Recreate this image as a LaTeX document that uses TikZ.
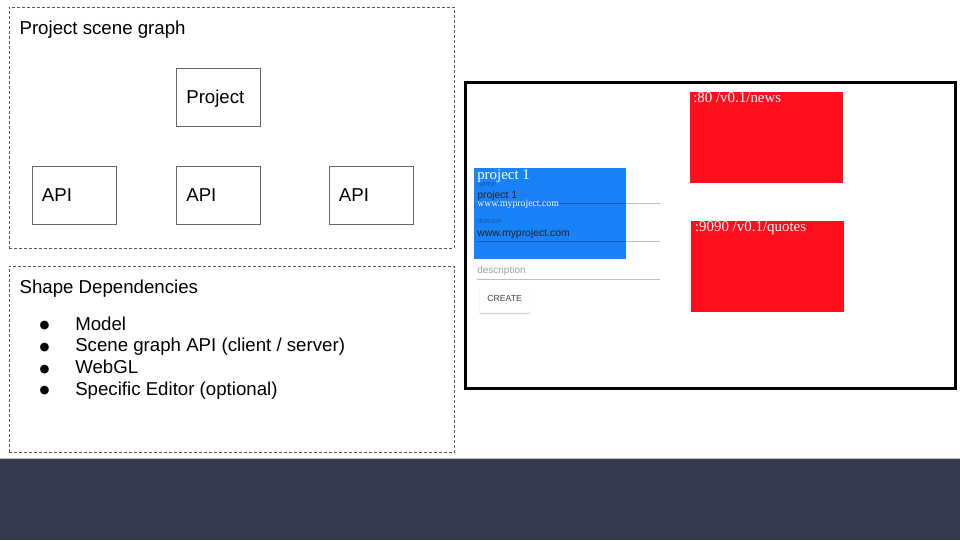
\documentclass[tikz,border=0pt]{standalone}
\usepackage{fontspec}
\setmainfont{Liberation Sans}
\newfontfamily\shotserif{Liberation Serif}
\newfontfamily\bulfont{DejaVu Sans}
\usetikzlibrary{shadows}
\definecolor{boxgray}{HTML}{666666}
\definecolor{dashgray}{HTML}{595959}
\definecolor{paneblue}{HTML}{1A82F8}
\definecolor{panered}{HTML}{FF0E1E}
\definecolor{band}{HTML}{323A4C}
\definecolor{formtext}{HTML}{212121}
\begin{document}
\begin{tikzpicture}[x=0.75pt,y=-0.75pt,
  dashbox/.style={draw=dashgray, dash pattern=on 2.25pt off 1.5pt, line width=0.6pt, minimum width=333.75pt, inner sep=0pt},
  nodebox/.style={draw=boxgray, line width=0.75pt, minimum width=62.6pt, minimum height=43.4pt, inner xsep=7pt, inner ysep=0pt, text width=48.6pt, align=left, text height=10pt, text depth=0pt, font=\fontsize{14}{16}\selectfont},
  heading/.style={anchor=base west, inner sep=0pt, font=\fontsize{14}{16}\selectfont},
  bul/.style={anchor=base, inner sep=0pt, font=\bulfont\fontsize{8.5}{10}\selectfont},
  item/.style={anchor=base west, inner sep=0pt, font=\fontsize{14}{16}\selectfont},
  panel/.style={minimum width=114.3pt, minimum height=68.4pt, inner sep=0pt},
  serifw/.style={anchor=base west, inner sep=0pt, text=white, font=\shotserif\fontsize{11.2}{13}\selectfont},
  formtxt/.style={anchor=base west, inner sep=0pt, text=formtext, font=\fontsize{7.8}{9}\selectfont},
  formlbl/.style={anchor=base west, inner sep=0pt, text=black, text opacity=0.3, font=\fontsize{5.6}{7}\selectfont},
  uline/.style={draw=black, draw opacity=0.25, line width=0.75pt},
  button/.style={fill=white, rounded corners=1.5pt, minimum width=38pt, minimum height=20.8pt, inner sep=0pt, text=formtext!85, font=\fontsize{6.5}{8}\selectfont, drop shadow={shadow xshift=0pt, shadow yshift=-1pt, opacity=0.35}}
]
\useasboundingbox (0,0) rectangle (960,540);

% --- Project scene graph ---
\node[dashbox, minimum height=180.75pt] (sgbox) at (231.8,127.8) {};
\node[heading] (sgtitle) at (19.3,34.3) {Project scene graph};
\node[nodebox] (proj) at (218.7,97.3) {Project};
\node[nodebox] (api1) at (74.3,195.2) {API};
\node[nodebox] (api2) at (218.7,195.2) {API};
\node[nodebox] (api3) at (371.3,195.2) {API};

% --- Shape Dependencies ---
\node[dashbox, minimum height=140.0pt] (depbox) at (231.8,359.4) {};
\node[heading] (deptitle) at (19.3,293.3) {Shape Dependencies};
\node[bul] (b1) at (44.5,328.8) {●};
\node[item] (i1) at (75,330) {Model};
\node[bul] (b2) at (44.5,350.5) {●};
\node[item] (i2) at (75,351.7) {Scene graph API (client / server)};
\node[bul] (b3) at (44.5,372.2) {●};
\node[item] (i3) at (75,373.4) {WebGL};
\node[bul] (b4) at (44.5,393.9) {●};
\node[item] (i4) at (75,395.1) {Specific Editor (optional)};

% --- Screenshot ---
\node[draw=black, line width=2.25pt, minimum width=367.4pt, minimum height=229.7pt, inner sep=0pt] (shot) at (710.6,235.2) {};
\node[panel, fill=paneblue] (pane) at (550.2,213.8) {};
\node[panel, fill=panered] (news) at (766.4,137.7) {};
\node[panel, fill=panered] (quotes) at (767.5,266.2) {};

\node[formlbl] (lname) at (477,186) {name};
\node[formtxt] (fname) at (477,198) {project 1};
\draw[uline] (477,203.7) -- (660,203.7);
\node[formlbl] (ldomain) at (477,223) {domain};
\node[formtxt] (fdomain) at (477,236) {www.myproject.com};
\draw[uline] (477,241.3) -- (660,241.3);
\node[formtxt, text=black, text opacity=0.38, font=\fontsize{7.5}{9}\selectfont] (fdesc) at (477,273) {description};
\draw[uline] (477,279) -- (660,279);
\node[button] (create) at (504.7,299) {CREATE};

\node[serifw] (ptitle) at (477,179) {project 1};
\node[serifw, font=\shotserif\fontsize{7.3}{9}\selectfont] (purl) at (477,206.7) {www.myproject.com};
\node[serifw] (newslbl) at (693,102) {:80 /v0.1/news};
\node[serifw] (quoteslbl) at (694.7,231.5) {:9090 /v0.1/quotes};

% --- footer band ---
\fill[band] (0,458.5) rectangle (960,540);
\draw[black!25, line width=0.75pt] (0,458.2) -- (960,458.2);
\end{tikzpicture}
\end{document}
